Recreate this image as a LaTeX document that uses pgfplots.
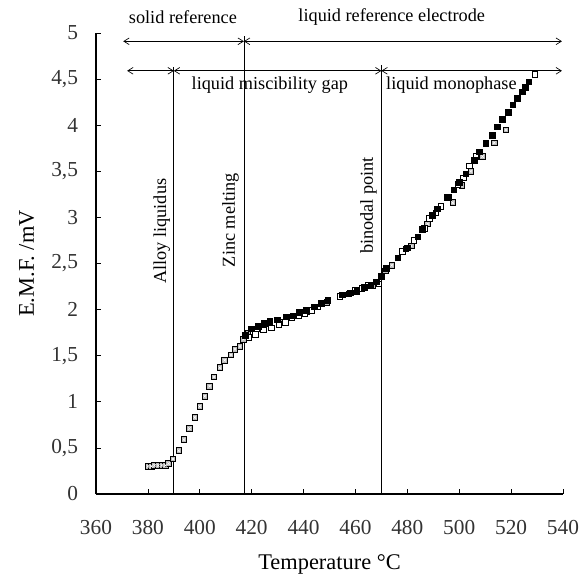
\documentclass[border=0pt]{standalone}
\usepackage{fontspec}
\setmainfont{Liberation Serif}
\usepackage{pgfplots}
\pgfplotsset{compat=1.18}
\usepackage{pgfplotstable}
\usetikzlibrary{arrows.meta}

% open squares
\pgfplotstableread{
T E
419.0 1.70
421.5 1.73
424.5 1.78
427.5 1.80
430.5 1.84
433.0 1.86
435.5 1.91
438.0 1.93
440.5 1.96
443.0 1.99
445.5 2.03
454.0 2.14
457.5 2.17
460.0 2.21
462.5 2.23
465.0 2.26
469.0 2.28
478.0 2.63
479.5 2.66
482.5 2.75
486.5 2.88
488.5 2.99
491.0 3.05
493.0 3.12
496.0 3.22
499.5 3.36
501.5 3.43
504.0 3.56
506.5 3.66
529.2 4.55
}\openS

% filled squares
\pgfplotstableread{
T E
417.5 1.72
420.0 1.79
422.5 1.82
425.0 1.85
427.0 1.87
430.0 1.89
433.3 1.92
436.0 1.93
438.5 1.97
441.0 1.99
444.2 2.03
446.8 2.07
449.4 2.10
455.0 2.16
458.0 2.18
460.5 2.20
463.5 2.24
466.0 2.27
468.0 2.30
470.0 2.36
472.0 2.45
476.3 2.56
480.1 2.67
484.0 2.79
485.9 2.87
489.7 3.02
491.7 3.09
495.5 3.22
498.0 3.30
500.0 3.38
502.6 3.47
505.8 3.62
507.7 3.71
510.3 3.80
512.8 3.89
514.7 3.98
516.7 4.06
519.0 4.14
520.7 4.22
522.4 4.29
524.4 4.36
525.6 4.41
526.9 4.47
}\fillS

% crossed squares
\pgfplotstableread{
T E
380.0 0.30
381.3 0.30
382.6 0.31
384.0 0.31
385.4 0.31
386.7 0.31
388.0 0.33
389.7 0.38
391.9 0.47
393.9 0.59
396.0 0.71
398.1 0.83
400.0 0.95
401.9 1.06
403.8 1.17
405.5 1.27
407.7 1.37
409.6 1.45
412.0 1.51
413.6 1.57
415.5 1.60
416.8 1.68
418.6 1.74
424.0 1.79
431.0 1.86
441.0 1.98
449.0 2.08
466.5 2.26
471.5 2.42
474.0 2.48
481.5 2.69
487.8 2.93
497.5 3.16
501.0 3.35
504.5 3.50
509.0 3.66
513.5 3.81
518.0 3.95
}\crossS

\begin{document}
\begin{tikzpicture}
\useasboundingbox (-72pt,-63pt) rectangle (365.25pt,370.5pt);
\begin{axis}[
  at={(0,0)}, anchor=south west,
  scale only axis, width=350.25pt, height=345.75pt,
  xmin=360, xmax=540, ymin=0, ymax=5,
  xtick={360,380,...,540},
  ytick={0,0.5,...,5},
  axis x line*=bottom, axis y line*=left,
  axis line style={-, line width=0.8pt},
  tick align=inside, major tick length=3.5pt,
  tick style={black, line width=0.5pt},
  /pgf/number format/assume math mode=true,
  /pgf/number format/use comma,
  /pgf/number format/1000 sep={},
  ticklabel style={font=\fontsize{16}{18}\selectfont, text=black!80},
  xticklabel style={yshift=-16pt},
  yticklabel style={xshift=-10pt},
  xlabel={Temperature °C},
  ylabel={E.M.F. /mV},
  label style={font=\fontsize{16.8}{19}\selectfont},
  xlabel style={yshift=-8pt},
  ylabel style={yshift=6pt},
  clip=false,
]
% vertical lines
\draw[line width=0.5pt] (axis cs:390,0) -- (axis cs:390,4.63);
\draw[line width=0.5pt] (axis cs:417,0) -- (axis cs:417,4.97);
\draw[line width=0.5pt] (axis cs:470,0) -- (axis cs:470,4.65);
% arrows
\draw[line width=0.5pt, {Straight Barb[length=4pt,width=5pt]}-{Straight Barb[length=4pt,width=5pt]}] (axis cs:370.5,4.91) -- (axis cs:417,4.91);
\draw[line width=0.5pt, {Straight Barb[length=4pt,width=5pt]}-{Straight Barb[length=4pt,width=5pt]}] (axis cs:417,4.91) -- (axis cs:539.6,4.91);
\draw[line width=0.5pt, {Straight Barb[length=4pt,width=5pt]}-{Straight Barb[length=4pt,width=5pt]}] (axis cs:372,4.59) -- (axis cs:390,4.59);
\draw[line width=0.5pt, {Straight Barb[length=4pt,width=5pt]}-{Straight Barb[length=4pt,width=5pt]}] (axis cs:390,4.59) -- (axis cs:470,4.59);
\draw[line width=0.5pt, {Straight Barb[length=4pt,width=5pt]}-{Straight Barb[length=4pt,width=5pt]}] (axis cs:470,4.59) -- (axis cs:539.6,4.59);
% texts
\node[font=\fontsize{13.7}{16}\selectfont] at (axis cs:393.5,5.17) {solid reference};
\node[font=\fontsize{13.7}{16}\selectfont] at (axis cs:474,5.17) {liquid reference electrode};
\node[font=\fontsize{13.7}{16}\selectfont] at (axis cs:427,4.43) {liquid miscibility gap};
\node[font=\fontsize{13.7}{16}\selectfont] at (axis cs:497,4.43) {liquid monophase};
\node[font=\fontsize{13.7}{16}\selectfont, rotate=90] at (axis cs:385.3,2.85) {Alloy liquidus};
\node[font=\fontsize{13.7}{16}\selectfont, rotate=90] at (axis cs:411.8,2.97) {Zinc melting};
\node[font=\fontsize{13.7}{16}\selectfont, rotate=90] at (axis cs:465,3.13) {binodal point};
% data
\addplot[only marks, mark=square*, mark size=2.1pt, mark options={fill=gray!55, draw=black, line width=0.6pt}] table[x=T,y=E] {\crossS};
\addplot[only marks, mark=x, mark size=1.3pt, mark options={draw=white, line width=0.4pt}] table[x=T,y=E] {\crossS};
\addplot[only marks, mark=square*, mark size=2.1pt, mark options={fill=white, draw=black, line width=0.6pt}] table[x=T,y=E] {\openS};
\addplot[only marks, mark=square*, mark size=2.1pt, mark options={fill=black, draw=black, line width=0.6pt}] table[x=T,y=E] {\fillS};
\end{axis}
\end{tikzpicture}
\end{document}
